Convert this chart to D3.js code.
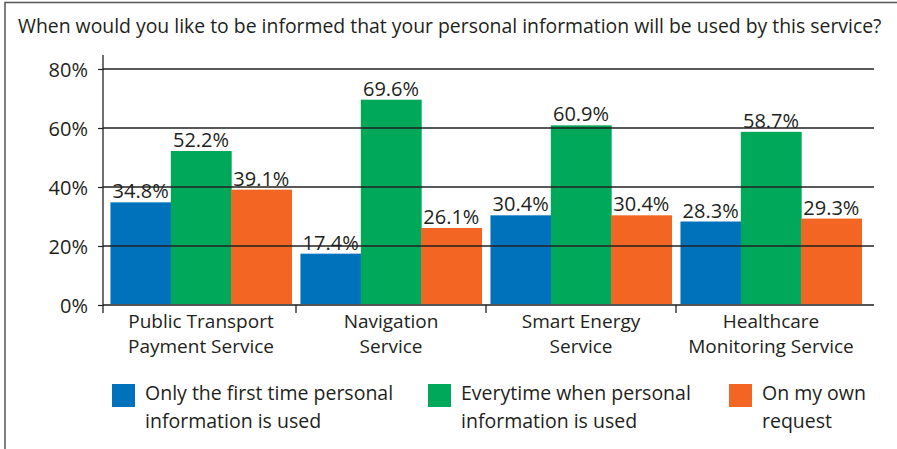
<!DOCTYPE html>
<html>
<head>
<meta charset="utf-8">
<script src="https://cdn.jsdelivr.net/npm/d3@7"></script>
<style>
  html, body { margin: 0; padding: 0; background: #fff; }
  svg { display: block; }
  text { font-family: "Open Sans", "Noto Sans", sans-serif; fill: #231f20; }
</style>
</head>
<body>
<svg id="chart" width="897" height="449"></svg>
<script>
// Survey answers per service (share of respondents)
const title = "When would you like to be informed that your personal information will be used by this service?";
const categories = [["Public Transport", "Payment Service"], ["Navigation", "Service"], ["Smart Energy", "Service"], ["Healthcare", "Monitoring Service"]];
const seriesNames = [["Only the first time personal", "information is used"], ["Everytime when personal", "information is used"], ["On my own", "request"]];
const firstTime = [34.8, 17.4, 30.4, 28.3];
const everyTime = [52.2, 69.6, 60.9, 58.7];
const ownRequest = [39.1, 26.1, 30.4, 29.3];
const yTicks = [0, 20, 40, 60, 80];
const colors = ["#0072bc", "#00a859", "#f26522"];

const series = [firstTime, everyTime, ownRequest];
const svg = d3.select("#chart");

// Frame
svg.append("path")
  .attr("d", "M5,449 V2.5 H897")
  .attr("fill", "none").attr("stroke", "#555").attr("stroke-width", 1.5);

svg.append("text")
  .attr("x", 18).attr("y", 33)
  .attr("font-size", 19.4)
  .text(title);

const y = d3.scaleLinear().domain([0, 80]).range([305, 69]);
const x0 = d3.scaleBand().domain(d3.range(categories.length))
  .range([106, 866]).paddingInner(0.047).paddingOuter(0.0235);
const x1 = d3.scaleBand().domain(d3.range(series.length)).range([0, x0.bandwidth()]);

// Bars
const groups = svg.append("g").selectAll("g")
  .data(d3.range(categories.length)).join("g")
  .attr("transform", i => `translate(${x0(i)},0)`);

groups.selectAll("rect")
  .data(i => series.map((s, k) => ({k, v: s[i]})))
  .join("rect")
  .attr("x", d => x1(d.k))
  .attr("width", x1.bandwidth() + 0.5)
  .attr("y", d => y(d.v))
  .attr("height", d => y(0) - y(d.v))
  .attr("fill", d => colors[d.k]);

// Gridlines over bars
svg.append("g").selectAll("line")
  .data(yTicks).join("line")
  .attr("x1", 103).attr("x2", 874)
  .attr("y1", d => y(d)).attr("y2", d => y(d))
  .attr("stroke", d => d === 0 ? "#555" : "#222")
  .attr("stroke-width", d => d === 0 ? 2 : 1.3);

// Y axis
const yAxis = d3.axisLeft(y).tickValues(yTicks).tickSize(5).tickFormat(d => d + "%");
const ya = svg.append("g").attr("transform", "translate(103,0)").call(yAxis);
ya.select(".domain").remove();
ya.selectAll(".tick line").attr("stroke", "#222").attr("stroke-width", 1.2);
ya.selectAll(".tick text").attr("font-size", 20).attr("x", -15).attr("dy", "0.36em")
  .attr("fill", "#231f20").attr("font-family", "\"Open Sans\", sans-serif");
svg.append("line").attr("x1", 103).attr("x2", 103).attr("y1", 55).attr("y2", 313)
  .attr("stroke", "#222").attr("stroke-width", 1.3);

// Group separators under the baseline
svg.append("g").selectAll("line")
  .data(d3.range(1, categories.length)).join("line")
  .attr("x1", i => x0(i) - x0.step() * x0.paddingInner() / 2)
  .attr("x2", i => x0(i) - x0.step() * x0.paddingInner() / 2)
  .attr("y1", 305).attr("y2", 313)
  .attr("stroke", "#222").attr("stroke-width", 1.3);

// Value labels
groups.selectAll("text.val")
  .data(i => series.map((s, k) => ({k, v: s[i]})))
  .join("text").attr("class", "val")
  .attr("x", d => x1(d.k) + x1.bandwidth() / 2)
  .attr("y", d => y(d.v) - 4)
  .attr("text-anchor", "middle")
  .attr("font-size", 20)
  .text(d => d.v.toFixed(1) + "%");

// Category labels
const cl = svg.append("g").selectAll("text")
  .data(categories).join("text")
  .attr("text-anchor", "middle")
  .attr("font-size", 19)
  .attr("transform", (d, i) => `translate(${x0(i) + x0.bandwidth() / 2},328)`);
cl.selectAll("tspan").data(d => d).join("tspan")
  .attr("x", 0).attr("dy", (d, j) => j === 0 ? 0 : 24.5).text(d => d);

// Legend
const legendX = [112, 428, 729];
const lg = svg.append("g").selectAll("g")
  .data(seriesNames).join("g")
  .attr("transform", (d, i) => `translate(${legendX[i]},384)`);
lg.append("rect").attr("width", 23).attr("height", 23).attr("fill", (d, i) => colors[i]);
const lt = lg.append("text").attr("x", 33).attr("y", 16).attr("font-size", 19.5);
lt.selectAll("tspan").data(d => d).join("tspan")
  .attr("x", 33).attr("dy", (d, j) => j === 0 ? 0 : 28).text(d => d);
</script>
</body>
</html>
